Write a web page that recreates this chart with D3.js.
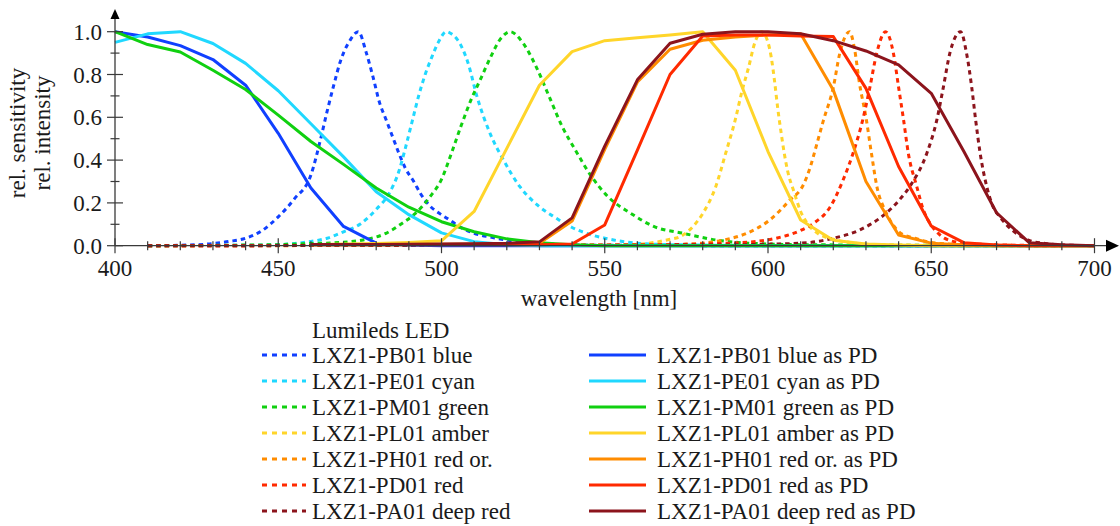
<!DOCTYPE html>
<html>
<head>
<meta charset="utf-8">
<script src="https://cdn.jsdelivr.net/npm/d3@7"></script>
<style>
  html, body { margin: 0; padding: 0; background: #fff; }
  svg { display: block; }
</style>
</head>
<body>
<svg id="chart" width="1120" height="526"></svg>
<script>
// ---------------- DATA ----------------
const xTicks = [400, 450, 500, 550, 600, 650, 700];
const yTicks = [0, 0.2, 0.4, 0.6, 0.8, 1.0];
const xTitle = "wavelength [nm]";
const yTitle = ["rel. sensitivity", "rel. intensity"];
const legendTitle = "Lumileds LED";

const ledNames = ["LXZ1-PB01 blue", "LXZ1-PE01 cyan", "LXZ1-PM01 green", "LXZ1-PL01 amber",
                  "LXZ1-PH01 red or.", "LXZ1-PD01 red", "LXZ1-PA01 deep red"];
const pdNames = ledNames.map(n => n + " as PD");
const colors = ["#1040ff", "#20d8ff", "#10d010", "#ffd52a", "#ff8c00", "#ff2a00", "#8c141c"];

// photodiode sensitivity (solid), sampled every 10 nm
const pdWavelengths = [400,410,420,430,440,450,460,470,480,490,500,510,520,530,540,550,560,570,580,590,600,610,620,630,640,650,660,670,680,690,700];
const pdBlue   = [1.0,0.975,0.935,0.87,0.75,0.525,0.27,0.09,0.012,0.003,0,0,0,0,0,0,0,0,0,0,0,0,0,0,0,0,0,0,0,0,0];
const pdCyan   = [0.95,0.99,1.0,0.945,0.852,0.724,0.57,0.415,0.252,0.145,0.06,0.019,0.005,0,0,0,0,0,0,0,0,0,0,0,0,0,0,0,0,0,0];
const pdGreen  = [1.0,0.94,0.905,0.82,0.73,0.61,0.487,0.38,0.27,0.18,0.112,0.065,0.032,0.014,0.005,0,0,0,0,0,0,0,0,0,0,0,0,0,0,0,0];
const pdAmber  = [null,null,null,null,null,null,0.005,0.008,0.01,0.015,0.023,0.16,0.455,0.75,0.907,0.958,0.972,0.985,1.0,0.82,0.44,0.12,0.025,0.008,0.003,0,0,0,0,0,0];
const pdOrange = [null,null,null,null,null,null,0.005,0.005,0.005,0.006,0.007,0.008,0.009,0.012,0.115,0.45,0.765,0.918,0.96,0.975,0.985,0.99,0.727,0.30,0.05,0.012,0.003,0,0,0,0];
const pdRed    = [null,null,null,null,null,null,0.005,0.005,0.005,0.005,0.005,0.005,0.005,0.005,0.008,0.097,0.447,0.80,0.98,0.985,0.985,0.98,0.977,0.735,0.37,0.092,0.014,0.003,0,0,0];
const pdDeepRed= [null,null,null,null,null,null,0.006,0.006,0.006,0.007,0.008,0.009,0.011,0.018,0.13,0.465,0.775,0.946,0.988,1.0,1.0,0.99,0.958,0.91,0.845,0.712,0.44,0.154,0.014,0.004,0];

// LED emission spectra (dotted), [wavelength, relative intensity]
const ledBlue = [[410,0],[420,0.002],[430,0.01],[435,0.02],[440,0.035],[445,0.07],[450,0.135],[455,0.22],[460,0.33],[463,0.5],[465,0.63],[467,0.75],[469,0.86],[472,0.96],[474.5,1.0],[477,0.9],[479,0.79],[481,0.67],[483,0.59],[485,0.51],[487,0.43],[489,0.36],[491.5,0.3],[493.5,0.245],[496.5,0.185],[499.5,0.15],[502.5,0.12],[506,0.085],[510,0.058],[515,0.04],[520,0.026],[530,0.01],[540,0.004],[550,0.002],[600,0],[690,0]];
const ledCyan = [[410,0],[440,0.002],[450,0.005],[455,0.01],[460,0.02],[465,0.035],[470,0.065],[475,0.1],[480,0.17],[484,0.245],[487,0.35],[489,0.46],[491,0.58],[493,0.7],[495,0.8],[497,0.88],[499,0.95],[501.5,1.0],[503,0.99],[505,0.96],[508,0.86],[511,0.69],[515,0.52],[519,0.4],[524,0.276],[530,0.182],[535,0.13],[540,0.085],[545,0.055],[550,0.035],[560,0.012],[570,0.005],[600,0.001],[690,0]];
const ledGreen = [[410,0],[440,0.003],[450,0.005],[460,0.01],[469,0.015],[476,0.027],[483,0.058],[488,0.105],[492,0.151],[496.5,0.229],[500,0.31],[503,0.43],[506,0.56],[509,0.68],[512,0.78],[515,0.88],[518,0.965],[521,1.0],[525,0.946],[529,0.836],[533,0.696],[537,0.556],[541,0.447],[546,0.322],[551,0.229],[558,0.151],[565,0.09],[574,0.058],[584,0.027],[594,0.012],[610,0.005],[690,0]];
const ledAmber = [[410,0],[500,0.002],[550,0.003],[560,0.006],[565,0.015],[570,0.03],[573,0.042],[577,0.089],[580,0.15],[584,0.276],[587,0.43],[590,0.59],[592,0.72],[594,0.83],[596,0.95],[598,1.0],[600,0.95],[601,0.88],[602,0.77],[603,0.64],[604,0.53],[605,0.43],[606,0.35],[608,0.25],[610,0.16],[612,0.105],[615,0.06],[620,0.03],[625,0.015],[630,0.007],[640,0.003],[690,0]];
const ledOrange = [[410,0],[550,0.002],[570,0.005],[580,0.012],[586.5,0.027],[593.5,0.058],[600.5,0.12],[606.5,0.21],[611,0.29],[613,0.37],[614.5,0.45],[617,0.587],[620,0.74],[622,0.9],[625,1.0],[626.5,0.92],[628,0.76],[630,0.6],[631.7,0.43],[633.3,0.28],[636,0.16],[638.4,0.095],[640.5,0.06],[645,0.035],[650,0.015],[660,0.005],[690,0]];
const ledRed = [[410,0],[560,0.003],[580,0.008],[590,0.013],[596.5,0.02],[602.5,0.035],[609.8,0.07],[614,0.105],[619,0.18],[623,0.307],[626,0.43],[629,0.587],[631.2,0.74],[633.3,0.9],[636,1.0],[638.4,0.9],[640,0.74],[641.5,0.59],[643,0.43],[645.5,0.28],[647.6,0.167],[649.6,0.105],[652,0.06],[654,0.035],[660,0.012],[670,0.004],[690,0]];
const ledDeepRed = [[410,0],[580,0.003],[600,0.007],[612,0.014],[620,0.035],[628,0.073],[636,0.15],[640,0.21],[644,0.29],[648.6,0.43],[651.7,0.587],[653.7,0.74],[655.7,0.9],[659,1.0],[660.8,0.9],[662.4,0.74],[663.6,0.587],[665,0.43],[667,0.276],[669,0.18],[671,0.135],[675,0.07],[680,0.025],[685,0.01],[690,0.004],[700,0]];

const ledSeries = [ledBlue, ledCyan, ledGreen, ledAmber, ledOrange, ledRed, ledDeepRed];
const pdSeries = [pdBlue, pdCyan, pdGreen, pdAmber, pdOrange, pdRed, pdDeepRed];

// ---------------- CHART ----------------
const svg = d3.select("#chart");
const x = d3.scaleLinear().domain([400, 700]).range([115, 1094.5]);
const y = d3.scaleLinear().domain([0, 1]).range([245.7, 31.7]);
const axisColor = "#3a3a3a";
const textColor = "#1a1a1a";
const FONT = "Liberation Serif";
const FS = 23;

function label(sel) {
  return sel.attr("font-family", FONT).attr("font-size", FS).attr("fill", textColor);
}

const plot = svg.append("g");

// LED spectra (dotted)
const smooth = d3.line().x(d => x(d[0])).y(d => y(d[1])).curve(d3.curveMonotoneX);
ledSeries.forEach((s, i) => {
  plot.append("path").attr("d", smooth(s))
    .attr("fill", "none").attr("stroke", colors[i]).attr("stroke-width", 3)
    .attr("stroke-dasharray", "4.5,4");
});

// PD sensitivity (solid)
const straight = d3.line().defined(d => d[1] != null).x(d => x(d[0])).y(d => y(d[1]));
pdSeries.forEach((s, i) => {
  const pts = pdWavelengths.map((w, k) => [w, s[k]]);
  plot.append("path").attr("d", straight(pts))
    .attr("fill", "none").attr("stroke", colors[i]).attr("stroke-width", 3)
    .attr("stroke-linejoin", "round");
});

// axes
const ax = svg.append("g");
ax.append("line").attr("x1", x(400)).attr("x2", 1108).attr("y1", y(0)).attr("y2", y(0))
  .attr("stroke", axisColor).attr("stroke-width", 1.3);
ax.append("path").attr("d", `M1119,${y(0)} L1106,${y(0)-6} L1106,${y(0)+6} Z`).attr("fill", "#000");
ax.append("line").attr("x1", x(400)).attr("x2", x(400)).attr("y1", y(0)).attr("y2", 18)
  .attr("stroke", axisColor).attr("stroke-width", 1.3);
ax.append("path").attr("d", `M${x(400)},9 L${x(400)-4.5},19 L${x(400)+4.5},19 Z`).attr("fill", "#000");

const xMinor = d3.range(400, 701, 10);
ax.selectAll(".xt").data(xMinor).join("line")
  .attr("x1", d => x(d)).attr("x2", d => x(d))
  .attr("y1", d => y(0) - (d % 50 === 0 ? 7.5 : 4.5))
  .attr("y2", d => y(0) + (d % 50 === 0 ? 7.5 : 4.5))
  .attr("stroke", axisColor).attr("stroke-width", 1.2);
const yMinor = d3.range(0, 11).map(k => k / 10);
ax.selectAll(".yt").data(yMinor).join("line")
  .attr("y1", d => y(d)).attr("y2", d => y(d))
  .attr("x1", (d, k) => x(400) - (k % 2 === 0 ? 8 : 4.5))
  .attr("x2", (d, k) => x(400) + (k % 2 === 0 ? 8 : 4.5))
  .attr("stroke", axisColor).attr("stroke-width", 1.2);

ax.selectAll(".xl").data(xTicks).join("text")
  .attr("x", d => x(d)).attr("y", 276).attr("text-anchor", "middle")
  .call(label).text(d => d);
ax.selectAll(".yl").data(yTicks).join("text")
  .attr("x", 102).attr("y", d => y(d)).attr("dy", "0.35em").attr("text-anchor", "end")
  .call(label).text(d => d3.format(".1f")(d));

svg.append("text").attr("x", 599).attr("y", 306).attr("text-anchor", "middle")
  .call(label).text(xTitle);
yTitle.forEach((t, i) => {
  svg.append("text").attr("transform", `translate(${25 + i * 25},133) rotate(-90)`)
    .attr("text-anchor", "middle").call(label).text(t);
});

// legend
const lg = svg.append("g");
lg.append("text").attr("x", 312).attr("y", 330).attr("dy", "0.35em").call(label).text(legendTitle);
ledNames.forEach((n, i) => {
  const cy = 355 + i * 26;
  lg.append("line").attr("x1", 262).attr("x2", 306).attr("y1", cy).attr("y2", cy)
    .attr("stroke", colors[i]).attr("stroke-width", 3).attr("stroke-dasharray", "5,5");
  lg.append("text").attr("x", 312).attr("y", cy).attr("dy", "0.35em").call(label).text(n);
  lg.append("line").attr("x1", 589).attr("x2", 646).attr("y1", cy).attr("y2", cy)
    .attr("stroke", colors[i]).attr("stroke-width", 3);
  lg.append("text").attr("x", 657).attr("y", cy).attr("dy", "0.35em").call(label).text(pdNames[i]);
});
</script>
</body>
</html>
